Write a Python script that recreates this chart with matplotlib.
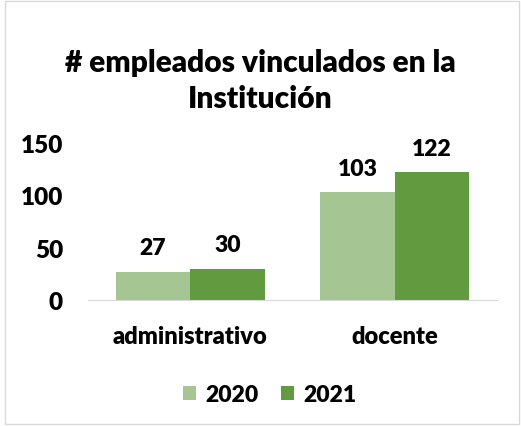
import matplotlib.pyplot as plt
import numpy as np
from matplotlib.patches import Rectangle

categories = ['administrativo', 'docente']
years = ['2020', '2021']
values_2020 = [27, 103]
values_2021 = [30, 122]
yticks = [0, 50, 100, 150]

colors = ['#A5C592', '#629A3F']
WEIGHT = 'heavy'

plt.rcParams['font.family'] = ['Lato', 'DejaVu Sans']
plt.rcParams['font.weight'] = WEIGHT

fig = plt.figure(figsize=(5.21, 4.27), dpi=100)
ax = fig.add_axes([0.169, 0.295, 0.785, 0.368])

x = np.arange(len(categories))
w = 0.365
bars1 = ax.bar(x - w / 2, values_2020, w, color=colors[0], label=years[0])
bars2 = ax.bar(x + w / 2, values_2021, w, color=colors[1], label=years[1])

for bars in (bars1, bars2):
    for b in bars:
        ax.text(b.get_x() + b.get_width() / 2, b.get_height() + 13, str(int(b.get_height())),
                ha='center', va='bottom', fontsize=16.5, fontweight=WEIGHT)

ax.set_xlim(-0.5, 1.5)
ax.set_ylim(0, 150)
ax.set_yticks(yticks)
ax.set_xticks(x)
ax.set_xticklabels(categories)
ax.tick_params(axis='x', length=0, labelsize=17, pad=18)
ax.tick_params(axis='y', length=0, labelsize=17.5, pad=18)
for lab in ax.get_xticklabels() + ax.get_yticklabels():
    lab.set_fontweight(WEIGHT)
for s in ['top', 'right', 'left']:
    ax.spines[s].set_visible(False)
ax.spines['bottom'].set_color('#D9D9D9')

fig.text(0.5, 0.81, '# empleados vinculados en la\nInstitución', ha='center', va='center',
         fontsize=21.5, fontweight=WEIGHT, linespacing=1.38)

fig.legend(loc='center', bbox_to_anchor=(0.518, 0.074), ncol=2, frameon=False,
           handlelength=0.55, handleheight=0.55, columnspacing=1.0, handletextpad=0.4,
           prop={'weight': WEIGHT, 'size': 16.5})

fig.patches.append(Rectangle((0.009, 0.004), 0.987, 0.992, transform=fig.transFigure,
                             fill=False, edgecolor='#D9D9D9', linewidth=1))

fig.savefig('out.png', dpi=100)
